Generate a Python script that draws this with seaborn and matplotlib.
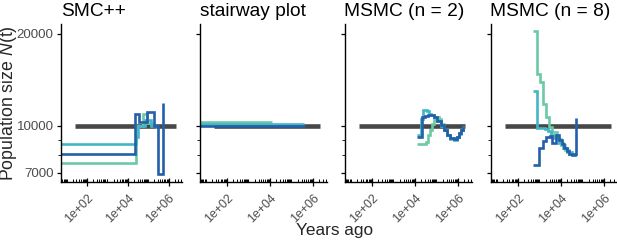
import numpy as np
import pandas as pd
import matplotlib
matplotlib.use("Agg")
import matplotlib.pyplot as plt
from matplotlib.ticker import FixedLocator, LogLocator, NullFormatter
import seaborn as sns

# ---------------- data ----------------
methods = ["SMC++", "stairway plot", "MSMC (n = 2)", "MSMC (n = 8)"]
series_names = ["rep A", "rep B", "rep C"]
series_colors = ["#6cc9a5", "#41b6c4", "#2460aa"]

truth_t = [25, 2240000]
truth_N = [10000, 10000]

# SMC++
smc_a_t = [3, 24000, 56000, 89000, 178000]
smc_a_N = [7530, 10000, 10900, 10200, 10200]
smc_b_t = [3, 24000, 33000, 71000, 141000, 251000, 282000]
smc_b_N = [8700, 9150, 9950, 10450, 10000, 9900, 9900]
smc_c_t = [3, 22400, 36300, 85000, 195000, 316000, 550000]
smc_c_N = [8075, 10900, 10300, 11050, 9950, 6930, 11900]

# stairway plot
stw_a_t = [3, 13200]
stw_a_N = [10300, 10300]
stw_b_t = [3, 398000]
stw_b_N = [10120, 10120]
stw_c_t = [3, 447000]
stw_c_N = [10000, 10000]

# MSMC (n = 2)
m2_a_t = [12900, 31600, 41700, 50100, 63100, 79400, 100000, 126000, 158000,
          224000, 316000, 447000, 631000, 891000, 1120000, 1410000, 1780000]
m2_a_N = [8700, 8850, 9300, 9700, 10100, 10500, 10700, 10550, 10100,
          9700, 9350, 9100, 9050, 9200, 9450, 9650, 10000]
m2_b_t = [12900, 20000, 25100, 35500, 44700, 56200, 79400, 112000, 158000,
          224000, 316000, 447000, 631000, 891000, 1120000, 1410000, 1780000]
m2_b_N = [9300, 10500, 11300, 11200, 10900, 10850, 10650, 10350, 10000,
          9650, 9300, 9050, 9000, 9150, 9400, 9650, 9950]
m2_c_t = [12900, 21400, 28200, 39800, 56200, 79400, 112000, 158000,
          224000, 316000, 447000, 631000, 891000, 1120000, 1410000, 1780000]
m2_c_N = [9200, 10650, 10750, 10850, 10850, 10700, 10400, 10050,
          9700, 9350, 9100, 9050, 9200, 9450, 9650, 10000]

# MSMC (n = 8)
m8_a_t = [500, 794, 1120, 1410, 1950, 2690, 3980, 6310, 10000, 15800, 25100, 39800, 56200]
m8_a_N = [20500, 14800, 13900, 11800, 10700, 9900, 9500, 9050, 8650, 8300, 8100, 8050, 8100]
m8_b_t = [500, 794, 1780, 2510, 3550, 5010, 7940, 12600, 20000, 31600, 44700, 50100]
m8_b_N = [13000, 9800, 9750, 9600, 9350, 9100, 8800, 8450, 8200, 8050, 8050, 8050]
m8_c_t = [500, 955, 1410, 1950, 2950, 3980, 5620, 7940, 10700, 14100, 18600, 25100,
          33900, 44700, 47900]
m8_c_N = [7430, 8430, 8900, 9200, 9250, 8800, 9300, 9000, 8700, 8450, 8250, 8100,
          8000, 8050, 10600]

x_ticks = [1e2, 1e4, 1e6]
x_ticklabels = ["1e+02", "1e+04", "1e+06"]
y_ticks = [7000, 10000, 20000]
y_ticklabels = ["7000", "10000", "20000"]
y_minor = [8000, 9000]

# ---------------- tidy table ----------------
table = {
    "SMC++": [(smc_a_t, smc_a_N), (smc_b_t, smc_b_N), (smc_c_t, smc_c_N)],
    "stairway plot": [(stw_a_t, stw_a_N), (stw_b_t, stw_b_N), (stw_c_t, stw_c_N)],
    "MSMC (n = 2)": [(m2_a_t, m2_a_N), (m2_b_t, m2_b_N), (m2_c_t, m2_c_N)],
    "MSMC (n = 8)": [(m8_a_t, m8_a_N), (m8_b_t, m8_b_N), (m8_c_t, m8_c_N)],
}
rows = []
for m in methods:
    for name, (tt, nn) in zip(series_names, table[m]):
        for t, n in zip(tt, nn):
            rows.append({"method": m, "series": name, "t": t, "N": n})
df = pd.DataFrame(rows)
truth_df = pd.DataFrame({"t": truth_t, "N": truth_N})

# ---------------- style ----------------
sns.set_theme(style="ticks")
plt.rcParams["font.family"] = ["Liberation Sans", "DejaVu Sans"]
plt.rcParams["mathtext.fontset"] = "custom"
plt.rcParams["mathtext.it"] = "Liberation Sans:italic"
plt.rcParams["mathtext.rm"] = "Liberation Sans"

W, H = 617, 245
fig = plt.figure(figsize=(W / 100, H / 100), dpi=100)

panels_px = [(61, 182), (199.5, 327), (344.5, 472), (490.5, 618)]
top_px, bot_px = 24, 181.7
palette = dict(zip(series_names, series_colors))

for i, (m, (l, r)) in enumerate(zip(methods, panels_px)):
    ax = fig.add_axes([l / W, 1 - bot_px / H, (r - l) / W, (bot_px - top_px) / H])
    sns.lineplot(data=truth_df, x="t", y="N", color="#474747", lw=3.3,
                 estimator=None, ax=ax, zorder=1, solid_capstyle="butt")
    sub = df[df["method"] == m]
    sns.lineplot(data=sub, x="t", y="N", hue="series", hue_order=series_names,
                 palette=palette, estimator=None, sort=False,
                 drawstyle="steps-post", lw=1.9, legend=False, ax=ax, zorder=2,
                 solid_capstyle="butt", solid_joinstyle="miter")
    ax.set_xscale("log")
    ax.set_yscale("log")
    ax.set_xlim(10 ** 0.72, 10 ** 6.66)
    ax.set_ylim(6550, 21560)
    for s in ["top", "right"]:
        ax.spines[s].set_visible(False)
    for s in ["left", "bottom"]:
        ax.spines[s].set_color("black")
        ax.spines[s].set_linewidth(1.0)

    ax.xaxis.set_major_locator(FixedLocator(x_ticks))
    ax.set_xticklabels(x_ticklabels)
    ax.xaxis.set_minor_locator(LogLocator(base=10, subs=np.arange(1, 10), numticks=30))
    ax.xaxis.set_minor_formatter(NullFormatter())
    ax.tick_params(axis="x", which="major", direction="inout", length=5.5, width=0.9,
                   color="black", labelsize=8.9, labelcolor="#4d4d4d", pad=4.8)
    ax.tick_params(axis="x", which="minor", direction="in", length=2.2, width=0.7,
                   color="black")
    for lab in ax.get_xticklabels():
        lab.set_rotation(45)
        lab.set_ha("right")
        lab.set_va("top")
        lab.set_rotation_mode("anchor")

    ax.yaxis.set_major_locator(FixedLocator(y_ticks))
    ax.yaxis.set_minor_locator(FixedLocator(y_minor))
    ax.yaxis.set_minor_formatter(NullFormatter())
    if i == 0:
        ax.set_yticklabels(y_ticklabels)
    else:
        ax.set_yticklabels([])
    ax.tick_params(axis="y", which="major", direction="out", length=2.8, width=0.9,
                   color="black", labelsize=9.6, labelcolor="#4d4d4d", pad=2.5)
    ax.tick_params(axis="y", which="minor", direction="out", length=2.0, width=0.6,
                   color="black")
    ax.set_xlabel("")
    ax.set_ylabel("")
    ax.set_title(m, loc="left", fontsize=13.8, pad=6.0, color="black")

fig.text(9 / W, 1 - 103 / H, "Population size $N$(t)", rotation=90,
         ha="center", va="center", fontsize=12.8)
fig.text(335 / W, 1 - 230 / H, "Years ago", ha="center", va="center", fontsize=12.4)

fig.savefig("out.png", dpi=100)
